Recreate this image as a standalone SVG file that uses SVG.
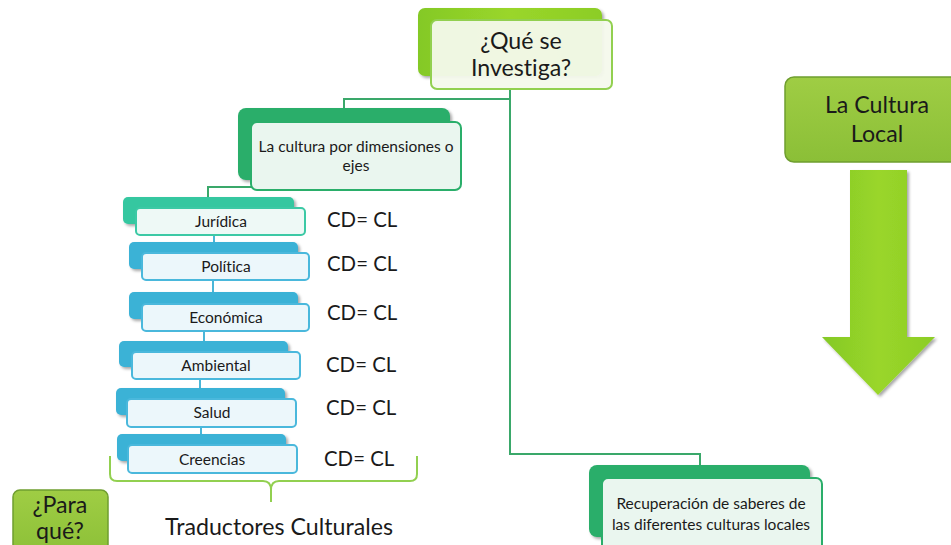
<svg xmlns="http://www.w3.org/2000/svg" width="951" height="545" viewBox="0 0 951 545">
<defs>
<filter id="sh" x="-10%" y="-10%" width="130%" height="140%">
<feDropShadow dx="2" dy="2" stdDeviation="1.5" flood-color="#000" flood-opacity="0.35"/>
</filter>
<linearGradient id="lime" x1="0" y1="0" x2="1" y2="0">
<stop offset="0" stop-color="#84c926"/>
<stop offset="0.5" stop-color="#9ad62a"/>
<stop offset="1" stop-color="#8ccd25"/>
</linearGradient>
<linearGradient id="olive" x1="0" y1="0" x2="0" y2="1">
<stop offset="0" stop-color="#9fcd44"/>
<stop offset="1" stop-color="#8bbf37"/>
</linearGradient>
</defs>
<style>
text{font-family:Lato,"Liberation Sans",sans-serif;fill:#1a1a1a;text-anchor:middle;font-variant-ligatures:none}
.conn{fill:none;stroke:#3aa86a;stroke-width:2}
.connb{fill:none;stroke:#4ab6d8;stroke-width:2}
.back{filter:url(#sh)}
.gback{fill:#2aae6a}
.tback{fill:#35c7a0}
.bback{fill:#3bb2d6}
.gfront{fill:#eaf6ef;stroke:#2aae6a;stroke-width:2}
.tfront{fill:#eef9f6;stroke:#3cc9a5;stroke-width:2}
.bfront{fill:#ecf7fb;stroke:#4ab8dc;stroke-width:2}
.big{font-size:23.2px}
.mid{font-size:15.5px}
.cd{font-size:20.4px;text-anchor:start}
</style>

<g id="connectors">
<path class="conn" d="M510 89 V99 H344 V110"/>
<path class="conn" d="M510 99 V454 H700 V466"/>
<path class="conn" d="M208 190 V187 H252"/>
<path class="conn" d="M208 187 V197"/>
<path class="connb" d="M214 235 V243"/>
<path class="connb" d="M213 280 V293"/>
<path class="connb" d="M204 331 V342"/>
<path class="connb" d="M200 379 V389"/>
<path class="connb" d="M201 427 V435"/>
</g>

<g id="que-se-investiga">
<rect class="back" x="418" y="8" width="184" height="68" rx="7" fill="url(#lime)"/>
<rect x="431" y="20" width="181" height="69" rx="6" fill="#f4f9ec" fill-opacity="0.95" stroke="#92d050" stroke-width="2"/>
<text class="big" x="521" y="49">¿Qué se</text>
<text class="big" x="521" y="76">Investiga?</text>
</g>

<g id="dimensiones">
<rect class="back gback" x="238" y="108" width="212" height="72" rx="8"/>
<rect class="gfront" x="251" y="122" width="210" height="68" rx="6"/>
<text class="mid" x="356" y="152">La cultura por dimensiones o</text>
<text class="mid" x="356" y="171">ejes</text>
</g>

<g id="juridica">
<rect class="back tback" x="123" y="197" width="171" height="27" rx="5"/>
<rect class="tfront" x="136" y="208" width="169" height="27" rx="4"/>
<text class="mid" x="221" y="227">Jurídica</text>
</g>
<g id="politica">
<rect class="back bback" x="129" y="242" width="169" height="27" rx="5"/>
<rect class="bfront" x="142" y="253" width="167" height="27" rx="4"/>
<text class="mid" x="226" y="272">Política</text>
</g>
<g id="economica">
<rect class="back bback" x="129" y="292" width="169" height="27" rx="5"/>
<rect class="bfront" x="142" y="304" width="167" height="27" rx="4"/>
<text class="mid" x="226" y="323">Económica</text>
</g>
<g id="ambiental">
<rect class="back bback" x="119" y="341" width="169" height="26" rx="5"/>
<rect class="bfront" x="132" y="352" width="168" height="27" rx="4"/>
<text class="mid" x="216" y="371">Ambiental</text>
</g>
<g id="salud">
<rect class="back bback" x="116" y="388" width="169" height="27" rx="5"/>
<rect class="bfront" x="127" y="399" width="169" height="28" rx="4"/>
<text class="mid" x="212" y="418">Salud</text>
</g>
<g id="creencias">
<rect class="back bback" x="117" y="434" width="169" height="27" rx="5"/>
<rect class="bfront" x="128" y="445" width="169" height="28" rx="4"/>
<text class="mid" x="212" y="465">Creencias</text>
</g>

<g id="cd-labels">
<text class="cd" x="327" y="227">CD= CL</text>
<text class="cd" x="327" y="271">CD= CL</text>
<text class="cd" x="327" y="320">CD= CL</text>
<text class="cd" x="326" y="372">CD= CL</text>
<text class="cd" x="326" y="415">CD= CL</text>
<text class="cd" x="324" y="466">CD= CL</text>
</g>

<g id="brace">
<path d="M110 456 V474 Q110 481 117 481 H263 Q271 481 271 490 V502 M271 502 V490 Q271 481 279 481 H410 Q417 481 417 474 V456" fill="none" stroke="#92d050" stroke-width="2"/>
</g>

<g id="traductores">
<text class="big" x="279" y="535">Traductores Culturales</text>
</g>

<g id="para-que">
<rect x="13" y="490" width="95" height="70" rx="7" fill="url(#olive)" stroke="#6f9e2f" stroke-width="1.5"/>
<text class="big" x="60" y="513">¿Para</text>
<text class="big" x="60" y="539">qué?</text>
</g>

<g id="la-cultura-local">
<rect x="785" y="77" width="180" height="85" rx="9" fill="url(#olive)" stroke="#6f9e2f" stroke-width="1.5"/>
<text class="big" x="877" y="113">La Cultura</text>
<text class="big" x="877" y="142">Local</text>
</g>

<g id="arrow">
<path class="back" d="M850 170 H907 V337 H935 L878 395 L822 337 H850 Z" fill="url(#lime)"/>
</g>

<g id="recuperacion">
<rect class="back gback" x="589" y="465" width="221" height="72" rx="8"/>
<rect class="gfront" x="602" y="478" width="220" height="80" rx="6"/>
<text class="mid" x="711" y="509">Recuperación de saberes de</text>
<text class="mid" x="711" y="530">las diferentes culturas locales</text>
</g>
</svg>
